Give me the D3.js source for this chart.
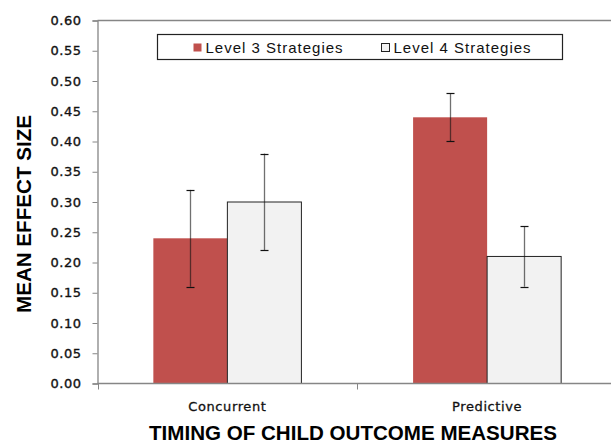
<!DOCTYPE html>
<html>
<head>
<meta charset="utf-8">
<script src="https://cdn.jsdelivr.net/npm/d3@7"></script>
<style>
  body { margin: 0; background: #fff; }
  svg { display: block; }
</style>
</head>
<body>
<div id="chart"></div>
<script>
// chart data
const categories = ['Concurrent', 'Predictive'];
const seriesNames = ['Level 3 Strategies', 'Level 4 Strategies'];
const level3 = [0.24, 0.44];
const level4 = [0.30, 0.21];
const level3Err = [[0.16, 0.32], [0.40, 0.48]];
const level4Err = [[0.22, 0.38], [0.16, 0.26]];
const yTicks = [0, 0.05, 0.10, 0.15, 0.20, 0.25, 0.30, 0.35, 0.40, 0.45, 0.50, 0.55, 0.60];

const width = 611, height = 443;
const plotLeft = 97.5, plotRight = 617, plotTop = 20.5, plotBottom = 383.5;

const svg = d3.select('#chart').append('svg')
    .attr('width', width)
    .attr('height', height);

const x0 = d3.scaleBand()
    .domain(categories)
    .range([plotLeft, plotRight])
    .paddingInner(0.43)
    .paddingOuter(0.215);

const x1 = d3.scaleBand()
    .domain(seriesNames)
    .range([0, x0.bandwidth()]);

const y = d3.scaleLinear().domain([0, 0.6]).range([plotBottom, plotTop]);

const colors = { 'Level 3 Strategies': '#c0504d', 'Level 4 Strategies': '#f2f2f2' };

// rows built from the arrays above
const rows = [];
categories.forEach((c, i) => {
    rows.push({ cat: c, s: seriesNames[0], v: level3[i], err: level3Err[i] });
    rows.push({ cat: c, s: seriesNames[1], v: level4[i], err: level4Err[i] });
});

// bars
svg.append('g')
    .selectAll('rect')
    .data(rows)
    .enter().append('rect')
    .attr('x', d => x0(d.cat) + x1(d.s))
    .attr('y', d => y(d.v))
    .attr('width', x1.bandwidth())
    .attr('height', d => y(0) - y(d.v))
    .attr('fill', d => colors[d.s])
    .attr('stroke', d => d.s === seriesNames[1] ? '#222' : 'none')
    .attr('stroke-width', 1);

// error bars
const eb = svg.append('g')
    .selectAll('g')
    .data(rows)
    .enter().append('g')
    .attr('transform', d => `translate(${Math.round(x0(d.cat) + x1(d.s) + x1.bandwidth() / 2) + 0.5},0)`);

eb.append('line')
    .attr('y1', d => y(d.err[0]))
    .attr('y2', d => y(d.err[1]))
    .attr('stroke', '#111')
    .attr('stroke-opacity', 0.6)
    .attr('stroke-width', 1.3);

eb.selectAll('.cap')
    .data(d => d.err)
    .enter().append('line')
    .attr('class', 'cap')
    .attr('x1', -4)
    .attr('x2', 4)
    .attr('y1', d => Math.round(y(d)) + 0.5)
    .attr('y2', d => Math.round(y(d)) + 0.5)
    .attr('stroke', '#111')
    .attr('stroke-width', 1.2);

// plot frame (top line) + axes
svg.append('line')
    .attr('x1', plotLeft).attr('x2', width)
    .attr('y1', plotTop).attr('y2', plotTop)
    .attr('stroke', '#868686').attr('stroke-width', 1.3);

const yAxis = svg.append('g')
    .attr('transform', `translate(${plotLeft},0)`)
    .call(d3.axisLeft(y).tickValues(yTicks).tickFormat(d3.format('.2f')).tickSize(5).tickPadding(11));

yAxis.select('.domain').attr('stroke', '#868686').attr('stroke-width', 1.3);
yAxis.selectAll('.tick line').attr('stroke', '#868686');
yAxis.selectAll('.tick text')
    .attr('fill', '#111')
    .attr('stroke', '#111')
    .attr('stroke-width', 0.35)
    .style('font-family', 'DejaVu Sans, sans-serif')
    .style('font-size', '13px')
    .style('letter-spacing', '0.5px');

const xAxis = svg.append('g')
    .attr('transform', `translate(0,${plotBottom})`);

xAxis.append('line')
    .attr('x1', plotLeft).attr('x2', width)
    .attr('stroke', '#868686').attr('stroke-width', 1.3);

// category boundary ticks
const bounds = [plotLeft, (x0(categories[0]) + x0.bandwidth() + x0(categories[1])) / 2];
xAxis.selectAll('.bt')
    .data(bounds)
    .enter().append('line')
    .attr('class', 'bt')
    .attr('x1', d => Math.round(d) + 0.5).attr('x2', d => Math.round(d) + 0.5)
    .attr('y1', 0).attr('y2', 6)
    .attr('stroke', '#868686');

xAxis.selectAll('.cl')
    .data(categories)
    .enter().append('text')
    .attr('class', 'cl')
    .attr('x', d => x0(d) + x0.bandwidth() / 2)
    .attr('y', 27)
    .attr('text-anchor', 'middle')
    .attr('fill', '#111')
    .attr('stroke', '#111')
    .attr('stroke-width', 0.3)
    .style('font-family', 'DejaVu Sans, sans-serif')
    .style('font-size', '13px')
    .style('letter-spacing', '0.6px')
    .text(d => d);

// axis titles
svg.append('text')
    .attr('x', 353)
    .attr('y', 440)
    .attr('text-anchor', 'middle')
    .attr('textLength', 408)
    .attr('lengthAdjust', 'spacingAndGlyphs')
    .style('font-family', 'Liberation Sans, Arial, sans-serif')
    .style('font-weight', 'bold')
    .style('font-size', '19.5px')
    .text('TIMING OF CHILD  OUTCOME MEASURES');

svg.append('text')
    .attr('transform', 'translate(31,214) rotate(-90)')
    .attr('text-anchor', 'middle')
    .attr('textLength', 198)
    .attr('lengthAdjust', 'spacingAndGlyphs')
    .style('font-family', 'Liberation Sans, Arial, sans-serif')
    .style('font-weight', 'bold')
    .style('font-size', '20.5px')
    .text('MEAN EFFECT SIZE');

// legend
const legend = svg.append('g');
legend.append('rect')
    .attr('x', 157.5).attr('y', 34.5)
    .attr('width', 405).attr('height', 25)
    .attr('fill', '#fff')
    .attr('stroke', '#222').attr('stroke-width', 1.2);

const legendX = [193, 381];
const li = legend.selectAll('.li')
    .data(seriesNames)
    .enter().append('g')
    .attr('class', 'li')
    .attr('transform', (d, i) => `translate(${legendX[i]},0)`);

li.append('rect')
    .attr('x', 0.5).attr('y', 43.5)
    .attr('width', 8).attr('height', 8)
    .attr('fill', d => colors[d])
    .attr('stroke', d => d === seriesNames[1] ? '#222' : 'none');

li.append('text')
    .attr('x', 12.5)
    .attr('y', 52.5)
    .attr('fill', '#111')
    .style('font-family', 'Liberation Sans, Arial, sans-serif')
    .style('font-size', '15px')
    .style('letter-spacing', '1px')
    .text(d => d);
</script>
</body>
</html>
